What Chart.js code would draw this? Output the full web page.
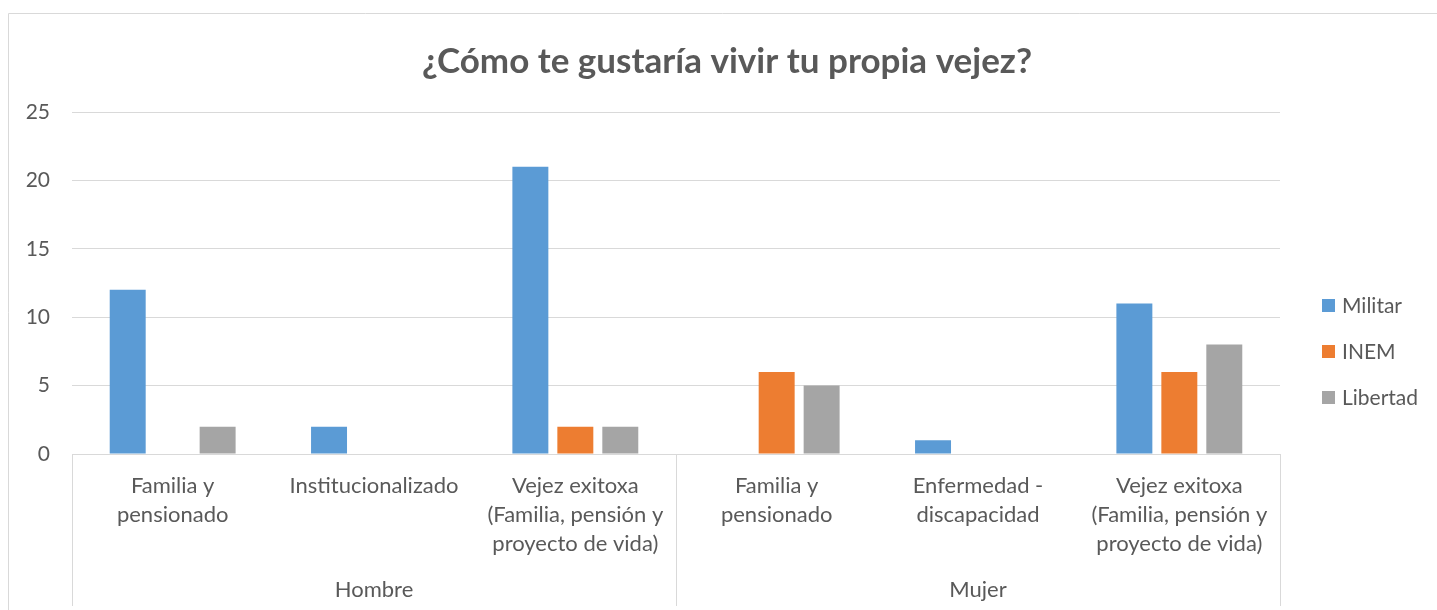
<!DOCTYPE html>
<html>
<head>
<meta charset="utf-8">
<script src="https://cdn.jsdelivr.net/npm/chart.js@4/dist/chart.umd.min.js"></script>
<style>
  html, body { margin: 0; padding: 0; background: #fff; }
  #wrap { width: 1437px; height: 610px; }
</style>
</head>
<body>
<div id="wrap"><canvas id="chart"></canvas></div>
<script>
// --------------------- Data -------------------
const chartTitle = '¿Cómo te gustaría vivir tu propia vejez?';
const categories = [
    ['Familia y', 'pensionado'],
    ['Institucionalizado'],
    ['Vejez exitoxa', '(Familia, pensión y', 'proyecto de vida)'],
    ['Familia y', 'pensionado'],
    ['Enfermedad -', 'discapacidad'],
    ['Vejez exitoxa', '(Familia, pensión y', 'proyecto de vida)']
];
const groups = ['Hombre', 'Mujer'];
const groupSizes = [3, 3];
const militar = [12, 2, 21, 0, 1, 11];
const inem = [0, 0, 2, 6, 0, 6];
const libertad = [2, 0, 2, 5, 0, 8];
const yTicks = [0, 5, 10, 15, 20, 25];

const FONT = 'Lato, "Open Sans", sans-serif';
const TEXT = '#595959';
const GRID = '#d9d9d9';

// --------------------- Extra drawing: frame, title, groups, legend -------------------
const decorPlugin = {
    id: 'decor',
    afterDraw(chart) {
        const ctx = chart.ctx;
        const area = chart.chartArea;
        const x = chart.scales.x;
        ctx.save();

        // outer frame
        ctx.strokeStyle = GRID;
        ctx.lineWidth = 1;
        ctx.beginPath();
        ctx.moveTo(8.5, 700);
        ctx.lineTo(8.5, 13.5);
        ctx.lineTo(1437, 13.5);
        ctx.stroke();

        // title
        ctx.fillStyle = TEXT;
        ctx.font = 'bold 35px ' + FONT;
        ctx.textAlign = 'center';
        ctx.textBaseline = 'middle';
        ctx.fillText(chartTitle, 727, 62);

        // category axis separators and group labels
        ctx.strokeStyle = GRID;
        let start = 0;
        const half = (x.getPixelForValue(1) - x.getPixelForValue(0)) / 2;
        const edges = [area.left];
        groupSizes.forEach((n, g) => {
            const left = x.getPixelForValue(start) - half;
            const right = x.getPixelForValue(start + n - 1) + half;
            edges.push(right);
            ctx.fillStyle = TEXT;
            ctx.font = '22px ' + FONT;
            ctx.fillText(groups[g], (left + right) / 2, 590);
            start += n;
        });
        edges.forEach(px => {
            const xx = Math.round(px) + 0.5;
            ctx.beginPath();
            ctx.moveTo(xx, area.bottom);
            ctx.lineTo(xx, 606);
            ctx.stroke();
        });

        // legend
        ctx.textAlign = 'left';
        chart.data.datasets.forEach((ds, i) => {
            const ly = 305 + i * 46;
            ctx.fillStyle = ds.backgroundColor;
            ctx.fillRect(1322, ly - 6, 13, 13);
            ctx.fillStyle = TEXT;
            ctx.font = '21px ' + FONT;
            ctx.fillText(ds.label, 1342, ly + 1);
        });
        ctx.restore();
    }
};

// --------------------- Chart -------------------
const ctx = document.getElementById('chart').getContext('2d');
const chart = new Chart(ctx, {
    type: 'bar',
    data: {
        labels: categories,
        datasets: [
            { label: 'Militar', data: militar, backgroundColor: '#5b9bd5' },
            { label: 'INEM', data: inem, backgroundColor: '#ed7d31' },
            { label: 'Libertad', data: libertad, backgroundColor: '#a5a5a5' }
        ]
    },
    options: {
        responsive: true,
        maintainAspectRatio: false,
        animation: false,
        layout: { padding: { left: 8, top: 112, right: 157, bottom: 0 } },
        datasets: {
            bar: { categoryPercentage: 0.67, barPercentage: 0.8 }
        },
        plugins: {
            legend: { display: false },
            title: { display: false },
            tooltip: { enabled: false }
        },
        scales: {
            x: {
                grid: { display: false, drawTicks: false },
                border: { display: true, color: GRID, width: 1 },
                ticks: {
                    color: TEXT,
                    font: { family: FONT, size: 22, lineHeight: 1.33 },
                    padding: 17,
                    maxRotation: 0,
                    autoSkip: false
                },
                afterFit: s => { s.height = 156; }
            },
            y: {
                min: 0,
                max: 25,
                afterBuildTicks: s => { s.ticks = yTicks.map(v => ({ value: v })); },
                grid: { color: GRID, drawTicks: false },
                border: { display: false },
                ticks: {
                    color: TEXT,
                    font: { family: FONT, size: 21 },
                    padding: 22
                },
                afterFit: s => { s.width = 64; }
            }
        }
    },
    plugins: [decorPlugin]
});
</script>
</body>
</html>
